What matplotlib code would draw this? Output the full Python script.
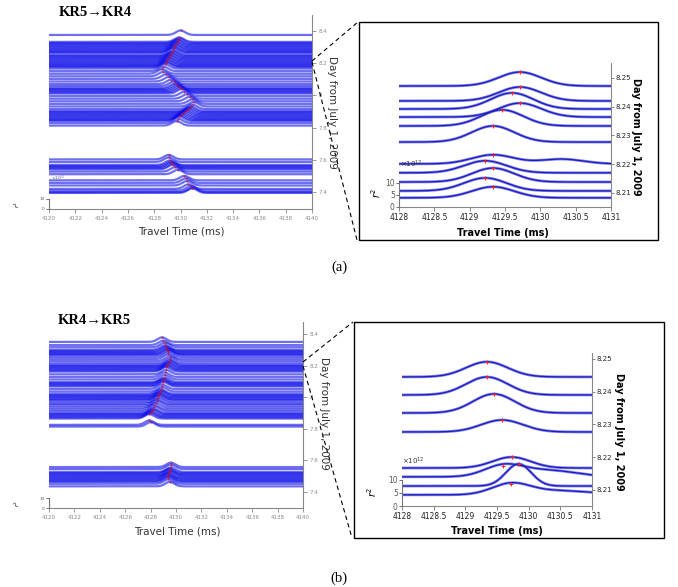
import matplotlib.pyplot as plt
import numpy as np
from matplotlib.lines import Line2D
from matplotlib.patches import Rectangle

W, H = 678, 587

# ---- overview panel (a): KR5 -> KR4, one trace per recording (day, picked peak time)
overA_days = [8.375,
              8.332, 8.325, 8.318, 8.311, 8.304, 8.297, 8.290, 8.283, 8.276, 8.269, 8.263,
              8.251, 8.244, 8.237, 8.230, 8.223, 8.216, 8.209, 8.202, 8.195, 8.188, 8.181, 8.176,
              8.166, 8.150, 8.134, 8.118, 8.102, 8.086, 8.070, 8.058,
              8.046, 8.039, 8.032, 8.025, 8.018, 8.011,
              7.995, 7.979, 7.963, 7.947, 7.931, 7.915,
              7.903, 7.896, 7.889, 7.882, 7.875, 7.868, 7.861, 7.854, 7.847, 7.841,
              7.828, 7.812,
              7.602, 7.586, 7.568, 7.561, 7.554, 7.547, 7.540, 7.526, 7.510,
              7.472, 7.456, 7.440, 7.419, 7.408, 7.398, 7.394]
overA_peaks = [4130.0,
               4129.9, 4129.9, 4129.8, 4129.8, 4129.7, 4129.7, 4129.6, 4129.6, 4129.5, 4129.5, 4129.4,
               4129.4, 4129.4, 4129.3, 4129.3, 4129.2, 4129.2, 4129.1, 4129.1, 4129.0, 4129.0, 4128.9, 4128.9,
               4128.8, 4128.7, 4128.6, 4128.7, 4128.9, 4129.1, 4129.3, 4129.5,
               4129.6, 4129.7, 4129.8, 4129.9, 4130.0, 4130.1,
               4130.3, 4130.5, 4130.7, 4130.9, 4131.0, 4130.9,
               4130.8, 4130.7, 4130.6, 4130.5, 4130.4, 4130.3, 4130.2, 4130.1, 4130.0, 4129.9,
               4129.8, 4129.7,
               4129.1, 4129.1, 4129.2, 4129.3, 4129.3, 4129.4, 4129.4, 4129.6, 4129.8,
               4130.3, 4130.4, 4130.5, 4130.6, 4130.8, 4130.9, 4130.9]

# ---- overview panel (b): KR4 -> KR5
overB_days = [8.350, 8.330, 8.316,
              8.300, 8.293, 8.286, 8.279, 8.272, 8.267,
              8.255, 8.242, 8.229, 8.215,
              8.204, 8.197, 8.190, 8.183, 8.176, 8.169, 8.162,
              8.145, 8.128, 8.112,
              8.096, 8.089, 8.082, 8.075, 8.068,
              8.052, 8.036, 8.022,
              8.014, 8.007, 8.000, 7.993, 7.986, 7.980,
              7.968, 7.958, 7.948, 7.936, 7.924, 7.912,
              7.900, 7.893, 7.886, 7.879, 7.872, 7.865,
              7.825, 7.814,
              7.558, 7.545,
              7.527, 7.520, 7.513, 7.506, 7.499, 7.492, 7.485, 7.478, 7.471, 7.464,
              7.452, 7.436]
overB_peaks = [4128.9, 4129.0, 4129.1,
               4129.1, 4129.2, 4129.2, 4129.3, 4129.3, 4129.4,
               4129.4, 4129.4, 4129.5, 4129.5,
               4129.5, 4129.5, 4129.4, 4129.4, 4129.3, 4129.3, 4129.2,
               4129.2, 4129.1, 4129.1,
               4129.1, 4129.0, 4129.0, 4129.0, 4129.0,
               4128.9, 4128.9, 4128.8,
               4128.8, 4128.8, 4128.7, 4128.7, 4128.7, 4128.6,
               4128.6, 4128.5, 4128.5, 4128.4, 4128.3, 4128.3,
               4128.2, 4128.2, 4128.1, 4128.0, 4128.0, 4127.9,
               4127.9, 4128.0,
               4129.6, 4129.6,
               4129.6, 4129.5, 4129.5, 4129.5, 4129.5, 4129.4, 4129.4, 4129.4, 4129.4, 4129.4,
               4129.4, 4129.5]
over_amp = 4.5      # r^2 (x10^12) of the overview wiggles
over_width = 0.35   # ms

# ---- zoomed traces (a)
zoomA_days = [8.2472, 8.2420, 8.2392, 8.2364, 8.2333, 8.2277, 8.2201, 8.2170, 8.2138, 8.2107, 8.2083]
zoomA_peaks = [4129.71, 4129.71, 4129.60, 4129.71, 4129.46, 4129.33, 4129.33, 4129.22, 4129.33, 4129.22, 4129.33]
zoomA_amps = [5.8, 5.8, 6.7, 5.8, 6.7, 6.7, 3.8, 5.0, 5.8, 5.4, 4.6]
zoomA_widths = [0.3, 0.3, 0.3, 0.3, 0.3, 0.3, 0.3, 0.3, 0.3, 0.3, 0.3]
zoomA_extra = [(6, 4130.3, 2.0, 0.3)]

# ---- zoomed traces (b)
zoomB_days = [8.2445, 8.2390, 8.2335, 8.2277, 8.2167, 8.2140, 8.2112, 8.2085]
zoomB_peaks = [4129.34, 4129.34, 4129.45, 4129.58, 4129.73, 4129.60, 4129.84, 4129.72]
zoomB_amps = [5.8, 6.9, 7.3, 4.6, 4.2, 4.2, 8.5, 4.2]
zoomB_widths = [0.33, 0.33, 0.33, 0.33, 0.3, 0.3, 0.2, 0.3]
zoomB_extra = [(5, 4130.3, 2.5, 0.45), (7, 4130.5, 1.6, 0.5)]

over_xticks = [4120, 4122, 4124, 4126, 4128, 4130, 4132, 4134, 4136, 4138, 4140]
over_yticks = [7.4, 7.6, 7.8, 8.0, 8.2, 8.4]
over_ylabels = ['7.4', '7.6', '7.8', '8', '8.2', '8.4']
zoom_xticks = [4128, 4128.5, 4129, 4129.5, 4130, 4130.5, 4131]
zoom_xlabels = ['4128', '4128.5', '4129', '4129.5', '4130', '4130.5', '4131']
zoom_yticks = [8.21, 8.22, 8.23, 8.24, 8.25]

plt.rcParams['font.family'] = ['DejaVu Sans']
serif = ['Liberation Serif', 'DejaVu Serif']
fig = plt.figure(figsize=(W / 100, H / 100), dpi=100)


def rect(x0, ytop, x1, ybot):
    return [x0 / W, 1 - ybot / H, (x1 - x0) / W, (ybot - ytop) / H]


def fx(x):
    return x / W


def fy(y):
    return 1 - y / H


def style_axes(ax, gray):
    for s in ['top', 'left']:
        ax.spines[s].set_visible(False)
    for s in ['right', 'bottom']:
        ax.spines[s].set_color(gray)
        ax.spines[s].set_linewidth(0.8)
    ax.yaxis.tick_right()
    ax.tick_params(colors=gray, direction='out')


def r2_axis(ax, r2_top, size, ticks):
    ax2 = ax.twinx()
    ax2.set_ylim(0, r2_top)
    for s in ['top', 'right', 'bottom']:
        ax2.spines[s].set_visible(False)
    ax2.spines['left'].set_visible(True)
    ax2.spines['left'].set_bounds(0, 10)
    ax2.spines['left'].set_color('#777777')
    ax2.yaxis.tick_left()
    ax2.set_yticks(ticks)
    ax2.tick_params(axis='y', labelsize=size, length=2, width=0.6, pad=1, colors='#555555')
    return ax2


def draw_overview(box, days, peaks, ylim, r2_top):
    ax = fig.add_axes(rect(*box))
    ax.set_xlim(4120, 4140)
    ax.set_ylim(*ylim)
    r2_axis(ax, r2_top, 3, [0, 10])
    t = np.linspace(4120, 4140, 2000)
    scale = (ylim[1] - ylim[0]) / r2_top
    for i, (d, p) in enumerate(zip(days, peaks)):
        y = d + over_amp * scale * np.exp(-0.5 * ((t - p) / over_width) ** 2)
        ax.fill_between(t, d, y, color='white', lw=0, zorder=2 + i)
        ax.plot(t, y, color='#0606e8', alpha=0.58, lw=1.6, zorder=2 + i,
                solid_capstyle='butt')
    ax.plot(peaks, np.array(days) + over_amp * scale, ls='none', marker='o', ms=1.5,
            color='#b0104a', alpha=0.75, mew=0, zorder=200)
    style_axes(ax, '#888888')
    ax.set_xticks(over_xticks)
    ax.set_xticklabels([str(v) for v in over_xticks])
    ax.set_yticks(over_yticks)
    ax.set_yticklabels(over_ylabels)
    ax.tick_params(labelsize=4, length=3, width=0.6, pad=2)
    return ax


def draw_zoom(box, days, peaks, amps, widths, extra, ylim, r2_top):
    ax = fig.add_axes(rect(*box))
    ax.set_xlim(4128, 4131)
    ax.set_ylim(*ylim)
    r2_axis(ax, r2_top, 5.5, [0, 5, 10])
    t = np.linspace(4128, 4131, 600)
    scale = (ylim[1] - ylim[0]) / r2_top
    for i, (d, p, a, w) in enumerate(zip(days, peaks, amps, widths)):
        r = a * np.exp(-0.5 * ((t - p) / w) ** 2)
        for j, te, ae, we in extra:
            if j == i:
                r = r + ae * np.exp(-0.5 * ((t - te) / we) ** 2)
        ax.plot(t, d + r * scale, color='#8080f0', lw=2.0, zorder=3)
        ax.plot(t, d + r * scale, color='#1c1cb8', lw=0.9, zorder=4)
        ax.plot(p, d + a * scale, marker='+', ms=3, mew=0.7, color='#ff2020', zorder=5)
    style_axes(ax, '#888888')
    ax.set_xticks(zoom_xticks)
    ax.set_xticklabels(zoom_xlabels)
    ax.set_yticks(zoom_yticks)
    ax.tick_params(labelsize=5.5, length=3, width=0.7, pad=1, labelcolor='#222222')
    ax.tick_params(axis='y', labelsize=5, length=2)
    return ax


# ---------------- panel (a)
draw_overview((49, 15, 312, 209), overA_days, overA_peaks, (7.294, 8.499), 194)
draw_zoom((399, 63, 611, 207), zoomA_days, zoomA_peaks, zoomA_amps, zoomA_widths,
          zoomA_extra, (8.2051, 8.2552), 60)

# ---------------- panel (b)
draw_overview((49, 322, 303, 508), overB_days, overB_peaks, (7.299, 8.476), 186)
draw_zoom((402, 353, 592, 506), zoomB_days, zoomB_peaks, zoomB_amps, zoomB_widths,
          zoomB_extra, (8.2051, 8.2518), 58.8)

# frames around the zoomed panels and dashed connectors
for x0, y0, x1, y1 in [(359, 22, 658, 240), (354, 322, 664, 538)]:
    fig.add_artist(Rectangle((fx(x0), fy(y1)), (x1 - x0) / W, (y1 - y0) / H,
                             transform=fig.transFigure, fill=False, ec='black', lw=1.0))
dash = (0, (4, 3))
for (x0, y0), (x1, y1) in [((312, 61), (358, 22)), ((312, 62), (357, 240)),
                           ((303, 362), (353, 322)), ((303, 366), (352, 538))]:
    fig.add_artist(Line2D([fx(x0), fx(x1)], [fy(y0), fy(y1)], transform=fig.transFigure,
                          color='black', lw=0.8, ls=dash))

# ---------------- texts
fig.text(fx(59), fy(13), 'KR5\u2192KR4', family=serif, weight='bold', fontsize=10.5, va='center')
fig.text(fx(58), fy(321), 'KR4\u2192KR5', family=serif, weight='bold', fontsize=10.5, va='center')

fig.text(fx(181), fy(232), 'Travel Time (ms)', fontsize=7.5, ha='center', va='center', color='#333333')
fig.text(fx(177), fy(532), 'Travel Time (ms)', fontsize=7.5, ha='center', va='center', color='#333333')
fig.text(fx(332), fy(112), 'Day from July 1, 2009', fontsize=7.5, rotation=270,
         ha='center', va='center', color='#333333')
fig.text(fx(324), fy(413), 'Day from July 1, 2009', fontsize=7.5, rotation=270,
         ha='center', va='center', color='#333333')

fig.text(fx(503), fy(233), 'Travel Time (ms)', fontsize=7, weight='bold', ha='center', va='center')
fig.text(fx(497), fy(531), 'Travel Time (ms)', fontsize=7, weight='bold', ha='center', va='center')
fig.text(fx(636), fy(137), 'Day from July 1, 2009', fontsize=7, weight='bold', rotation=270,
         ha='center', va='center')
fig.text(fx(619), fy(432), 'Day from July 1, 2009', fontsize=7, weight='bold', rotation=270,
         ha='center', va='center')

fig.text(fx(400), fy(164), '\u00d7$10^{12}$', fontsize=5, va='center', color='#333333')
fig.text(fx(402), fy(461), '\u00d7$10^{12}$', fontsize=5, va='center', color='#333333')
fig.text(fx(376), fy(193), '$r^2$', fontsize=7, rotation=90, ha='center', va='center')
fig.text(fx(372), fy(492), '$r^2$', fontsize=7, rotation=90, ha='center', va='center')

fig.text(fx(51), fy(178), '\u00d7$10^{12}$', fontsize=3, va='center', color='#555555')
fig.text(fx(17), fy(204), '$r^2$', fontsize=4.5, rotation=90, ha='center', va='center')
fig.text(fx(17), fy(503), '$r^2$', fontsize=4.5, rotation=90, ha='center', va='center')

fig.text(fx(339), fy(267), '(a)', family=serif, fontsize=10.5, ha='center', va='center')
fig.text(fx(339), fy(578), '(b)', family=serif, fontsize=10.5, ha='center', va='center')

fig.savefig('out.png', dpi=100)
